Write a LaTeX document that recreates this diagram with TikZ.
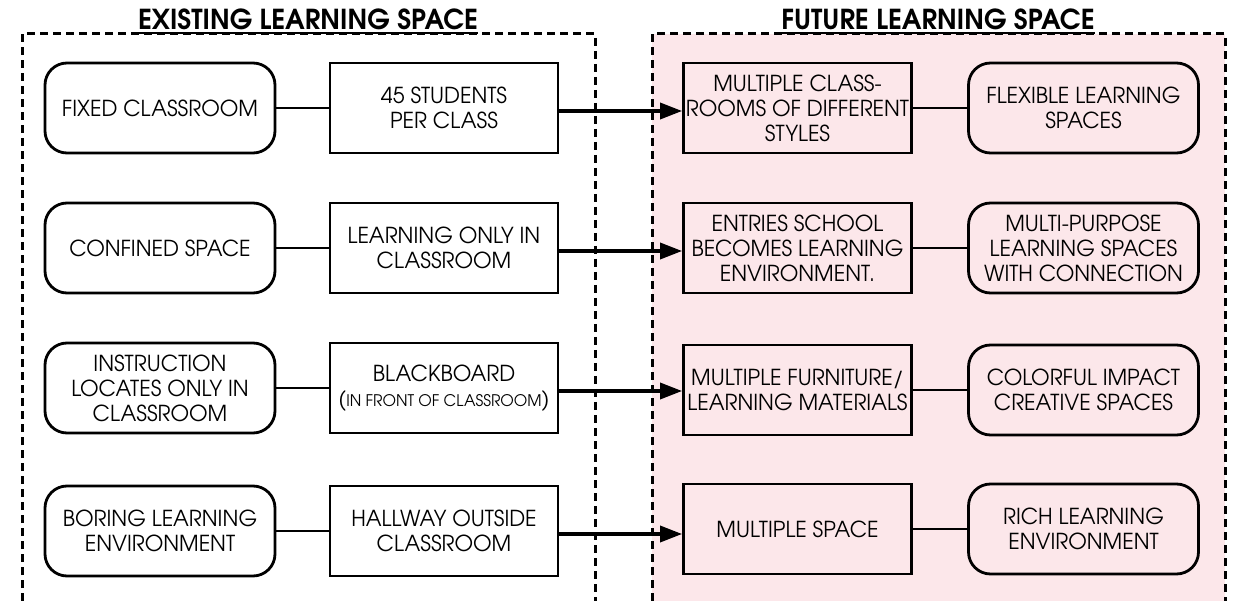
\documentclass[tikz,border=0pt]{standalone}
\usepackage{fontspec}
\setmainfont{texgyreadventor}[Extension=.otf,UprightFont=*-regular,BoldFont=*-bold,ItalicFont=*-italic,BoldItalicFont=*-bolditalic,FakeStretch=0.97]
\usetikzlibrary{arrows.meta}
\definecolor{pinkbg}{HTML}{FCE7EA}
\begin{document}
\begin{tikzpicture}[x=1pt,y=-1pt,
  boxfont/.style={font=\fontsize{22}{25}\selectfont},
  rbox/.style={draw,line width=2.8pt,rounded corners=22pt,minimum width=230pt,minimum height=90pt,align=center,inner sep=1pt,boxfont},
  sbox/.style={draw,line width=2.8pt,minimum width=228pt,minimum height=90pt,align=center,inner sep=1pt,boxfont},
  link/.style={line width=2.6pt},
  arr/.style={line width=3.4pt,-{Triangle[length=22pt,width=16pt]}},
  frame/.style={line width=3pt,dash pattern=on 8pt off 5pt},
  title/.style={font=\fontsize{27.5}{30}\selectfont\bfseries,inner sep=0pt,anchor=base}]
\useasboundingbox (0,0) rectangle (1236,601);
% frames
\fill[pinkbg] (652,34) rectangle (1225,601);
\draw[frame] (22,601) -- (22,34) -- (595,34) -- (595,601);
\draw[frame] (652,601) -- (652,34) -- (1225,34) -- (1225,601);
% titles
\node[title] (t1) at (308,30) {EXISTING LEARNING SPACE};
\node[title] (t2) at (938,30) {FUTURE LEARNING SPACE};
\draw[line width=1.8pt] ([yshift=-3pt]t1.base west) -- ([yshift=-3pt]t1.base east);
\draw[line width=1.8pt] ([yshift=-3pt]t2.base west) -- ([yshift=-3pt]t2.base east);
% row 1
\node[rbox] (a1) at (160,108) {FIXED CLASSROOM};
\node[sbox] (b1) at (444,108) {45 STUDENTS\\PER CLASS};
\node[sbox] (c1) at (797.5,108) {MULTIPLE CLASS-\\ROOMS OF DIFFERENT\\STYLES};
\node[rbox] (d1) at (1083.5,108) {FLEXIBLE LEARNING\\SPACES};
% row 2
\node[rbox] (a2) at (160,248) {CONFINED SPACE};
\node[sbox] (b2) at (444,248) {LEARNING ONLY IN\\CLASSROOM};
\node[sbox] (c2) at (797.5,248) {ENTRIES SCHOOL\\BECOMES LEARNING\\ENVIRONMENT.};
\node[rbox] (d2) at (1083.5,248) {MULTI-PURPOSE\\LEARNING SPACES\\WITH CONNECTION};
% row 3
\node[rbox] (a3) at (160,388) {INSTRUCTION\\LOCATES ONLY IN\\CLASSROOM};
\node[sbox] (b3) at (444,388) {BLACKBOARD\\({\fontsize{16}{18}\selectfont IN FRONT OF CLASSROOM})};
\node[sbox] (c3) at (797.5,390) {MULTIPLE FURNITURE/\\LEARNING MATERIALS};
\node[rbox] (d3) at (1083.5,390) {COLORFUL IMPACT\\CREATIVE SPACES};
% row 4
\node[rbox] (a4) at (160,531) {BORING LEARNING\\ENVIRONMENT};
\node[sbox] (b4) at (444,531) {HALLWAY OUTSIDE\\CLASSROOM};
\node[sbox] (c4) at (797.5,529) {MULTIPLE SPACE};
\node[rbox] (d4) at (1083.5,529) {RICH LEARNING\\ENVIRONMENT};
% links
\foreach \i in {1,2,3,4}{
  \draw[link] (a\i) -- (b\i);
  \draw[link] (c\i) -- (d\i);
  \draw[arr] ([yshift=-3pt]b\i.east) -- ([yshift=-3pt]b\i.east -| c\i.west);
}
\end{tikzpicture}
\end{document}
